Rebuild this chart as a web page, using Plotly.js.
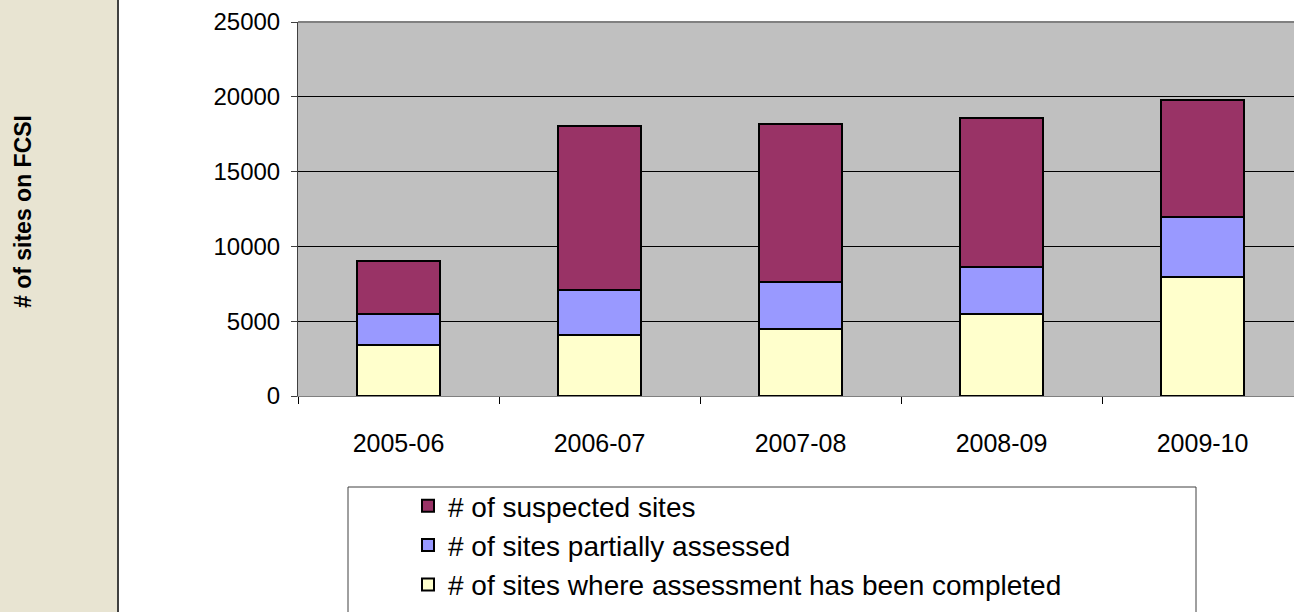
<!DOCTYPE html>
<html>
<head>
<meta charset="utf-8">
<script src="https://cdn.plot.ly/plotly-3.0.1.min.js"></script>
<style>
html,body{margin:0;padding:0;background:#fff;}
#chart{width:1294px;height:612px;}
</style>
</head>
<body>
<div id="chart"></div>
<script>
const categories = ["2005-06", "2006-07", "2007-08", "2008-09", "2009-10"];
const completed = [3400, 4100, 4500, 5500, 7950];
const partial = [2100, 3000, 3100, 3150, 4000];
const suspected = [3500, 10950, 10600, 9900, 7850];
const seriesNames = [
  "# of sites where assessment has been completed",
  "# of sites partially assessed",
  "# of suspected sites"
];
const yTicks = [0, 5000, 10000, 15000, 20000, 25000];

const W = 1294, H = 612, L = 298, T = 22, B = 216;
const PW = W - L, PH = H - T - B;
const px2x = p => (p - L) / PW;
const py2y = p => (H - B - p) / PH;

const common = {type: "bar", x: categories, width: 0.41, hoverinfo: "y+name"};
const traces = [
  Object.assign({}, common, {name: seriesNames[0], y: completed,
    marker: {color: "#FFFFCC", line: {color: "#000000", width: 2}}}),
  Object.assign({}, common, {name: seriesNames[1], y: partial,
    marker: {color: "#9999FF", line: {color: "#000000", width: 2}}}),
  Object.assign({}, common, {name: seriesNames[2], y: suspected,
    marker: {color: "#993366", line: {color: "#000000", width: 2}}})
];

const layout = {
  width: W, height: H,
  margin: {l: L, r: 0, t: T, b: B, pad: 0, autoexpand: false},
  paper_bgcolor: "#FFFFFF",
  plot_bgcolor: "#C0C0C0",
  barmode: "stack",
  font: {family: "Liberation Sans, Arial, sans-serif", color: "#000000", size: 24},
  showlegend: true,
  legend: {
    x: px2x(408), xanchor: "left",
    y: py2y(481), yanchor: "top",
    bgcolor: "rgba(0,0,0,0)", borderwidth: 0,
    traceorder: "reversed",
    font: {family: "Liberation Sans, Arial, sans-serif", size: 28, color: "#000"},
    tracegroupgap: 0
  },
  xaxis: {
    type: "category",
    range: [-0.5, 4.455],
    showgrid: false,
    showline: true, linecolor: "#808080", linewidth: 1,
    ticks: "outside", tickson: "boundaries", ticklen: 7, tickcolor: "#000", tickwidth: 1,
    tickfont: {size: 25, family: "Liberation Sans, Arial, sans-serif"},
    ticklabelstandoff: 25,
    fixedrange: true
  },
  yaxis: {
    range: [0, 25000],
    tickvals: yTicks,
    ticktext: yTicks.map(String),
    showgrid: true, gridcolor: "#000000", gridwidth: 1,
    showline: true, linecolor: "#404040", linewidth: 1,
    ticks: "outside", ticklen: 6, tickcolor: "#404040",
    tickfont: {size: 24, family: "Liberation Sans, Arial, sans-serif"},
    ticklabelstandoff: 6,
    zeroline: false,
    fixedrange: true
  },
  shapes: [
    {type: "rect", xref: "paper", yref: "paper", layer: "below",
     x0: px2x(-2), x1: px2x(118), y0: py2y(614), y1: py2y(-2),
     fillcolor: "#E8E4D2", line: {color: "#404040", width: 2}},
    {type: "line", xref: "paper", yref: "paper",
     x0: 0, x1: 1, y0: 1, y1: 1, line: {color: "#808080", width: 2}},
    {type: "rect", xref: "paper", yref: "paper", layer: "below",
     x0: px2x(348), x1: px2x(1196), y0: py2y(640), y1: py2y(487),
     fillcolor: "#FFFFFF", line: {color: "#404040", width: 1}}
  ],
  annotations: [
    {text: "<b># of sites on FCSI</b>", xref: "paper", yref: "paper",
     x: px2x(23), y: py2y(212), xanchor: "center", yanchor: "middle",
     textangle: -90, showarrow: false,
     font: {size: 23, family: "Liberation Sans, Arial, sans-serif", color: "#000"}}
  ]
};

Plotly.newPlot("chart", traces, layout, {displayModeBar: false});
</script>
</body>
</html>
